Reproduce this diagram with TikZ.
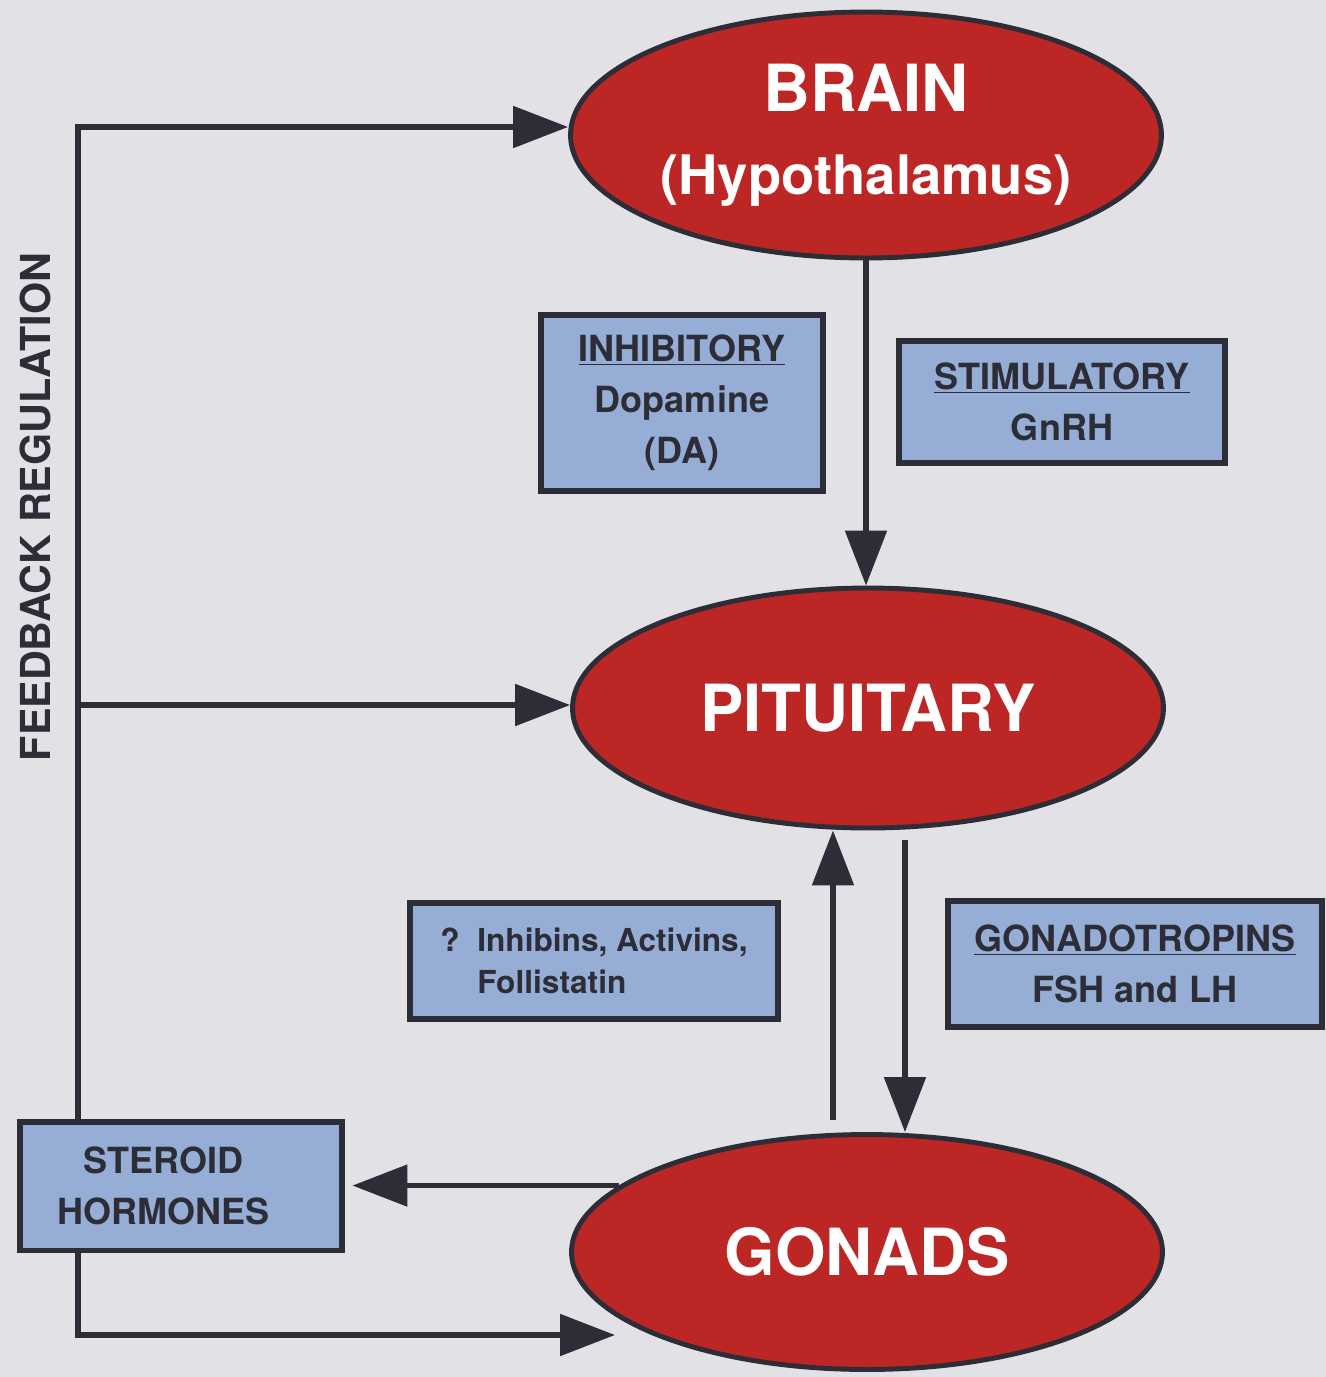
\documentclass[tikz,border=0pt]{standalone}
\usepackage{fontspec}
\setmainfont{TeX Gyre Heros}
\usetikzlibrary{shapes.geometric,arrows.meta}

\definecolor{bgcol}{RGB}{226,225,230}
\definecolor{organred}{RGB}{188,38,36}
\definecolor{boxblue}{RGB}{150,174,214}
\definecolor{inkcol}{RGB}{45,45,55}

\tikzset{
  organ/.style={draw=inkcol, line width=2.8pt, ellipse, fill=organred, text=white, inner sep=0pt,
    minimum width=11.82cm, minimum height=4.8cm, font=\bfseries\fontsize{37}{47}\selectfont, align=center},
  infobox/.style={draw=inkcol, line width=3.4pt, fill=boxblue, text=inkcol, inner sep=0pt,
    font=\bfseries\fontsize{20.5}{29}\selectfont, align=center},
  conn/.style={draw=inkcol, line width=3pt, -{Triangle[length=1.1cm, width=0.82cm]}},
}

\begin{document}
\begin{tikzpicture}[x=0.02cm, y=-0.02cm]
\fill[bgcol] (0,0) rectangle (1326,1377);
\useasboundingbox (0,0) rectangle (1326,1377);

\node[organ, minimum height=4.92cm] (brain) at (866,135) {BRAIN\\{\fontsize{31}{47}\selectfont(Hypothalamus)}};
\node[organ] (pit) at (868,708) {PITUITARY};
\node[organ, minimum height=4.7cm] (gon) at (867,1252) {GONADS};

\node[infobox, minimum width=5.64cm, minimum height=3.52cm] (inhib) at (682,403) {\underline{INHIBITORY}\\Dopamine\\(DA)};
\node[infobox, minimum width=6.52cm, minimum height=2.44cm] (stim) at (1062,402) {\underline{STIMULATORY}\\GnRH};
\node[infobox, minimum width=7.36cm, minimum height=2.32cm, align=left, font=\bfseries\fontsize{18}{24}\selectfont] (inhibins) at (594,961) {?~~Inhibins, Activins,\\\hphantom{?~~}Follistatin};
\node[infobox, minimum width=7.5cm, minimum height=2.52cm] (gtrop) at (1135,964) {\underline{GONADOTROPINS}\\FSH and LH};
\node[infobox, minimum width=6.46cm, minimum height=2.58cm] (ster) at (181,1186) {STEROID\hspace*{0.7cm}\\HORMONES\hspace*{0.7cm}};

\node[rotate=90, text=inkcol, font=\bfseries\fontsize{23.5}{28}\selectfont] (fbtxt) at (35,507) {FEEDBACK REGULATION};

\coordinate (fbtop) at (78,127);
\coordinate (fbmid) at (78,705);
\coordinate (fbbot) at (78,1335);
\coordinate (gontip) at (615,1335);
\coordinate (pdown) at (905,840);
\coordinate (gup) at (833,1120);

\draw[conn] (brain.south) -- (brain.south |- pit.north);
\draw[conn] (pdown) -- (pdown |- gon.north);
\draw[conn] (gup) -- (gup |- pit.south);
\draw[conn, shorten >=0.14cm] (gon.165) -- (gon.165 -| ster.east);

\draw[conn] (ster.north -| fbtop) -- (fbtop) -- (fbtop -| brain.west);
\draw[conn] (fbmid) -- (fbmid -| pit.west);
\draw[conn] (ster.south -| fbbot) -- (fbbot) -- (gontip);
\end{tikzpicture}
\end{document}
